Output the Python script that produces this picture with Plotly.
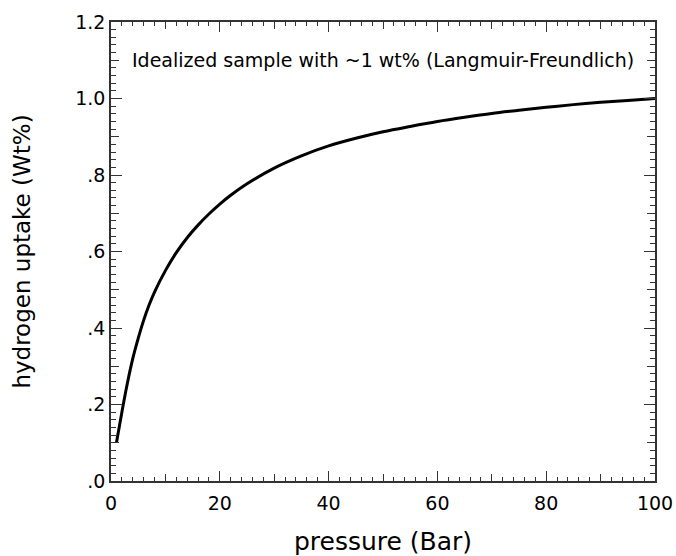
import plotly.graph_objects as go

pressure = [1, 2, 3, 4, 5, 6, 7, 8, 10, 12, 14, 16, 18, 20, 22, 25, 30, 35, 40, 45,
            50, 55, 60, 65, 70, 75, 80, 85, 90, 95, 100]
uptake = [0.10, 0.18, 0.255, 0.32, 0.373, 0.42, 0.46, 0.494, 0.55, 0.597, 0.636, 0.669,
          0.698, 0.724, 0.747, 0.777, 0.818, 0.85, 0.876, 0.896, 0.913, 0.927, 0.94,
          0.951, 0.961, 0.969, 0.977, 0.984, 0.99, 0.995, 1.0]

y_tickvals = [0, 0.2, 0.4, 0.6, 0.8, 1.0, 1.2]
y_ticktext = [".0", ".2", ".4", ".6", ".8", "1.0", "1.2"]
x_tickvals = [0, 20, 40, 60, 80, 100]
x_mid = [10, 30, 50, 70, 90]
y_mid = [0.1, 0.3, 0.5, 0.7, 0.9, 1.1]

FONT = "DejaVu Sans"
AX = "#333333"
XR = [0, 100]
YR = [0, 1.2]

fig = go.Figure()
fig.add_trace(go.Scatter(x=pressure, y=uptake, mode="lines",
                         line=dict(color="black", width=3, shape="spline"),
                         showlegend=False))
# invisible helper traces so that the overlay axes (extra tick rows) are drawn
for xa, ya in [("x2", "y2"), ("x3", "y3")]:
    fig.add_trace(go.Scatter(x=[XR[0]], y=[YR[0]], xaxis=xa, yaxis=ya, mode="markers",
                             marker=dict(opacity=0), showlegend=False, hoverinfo="skip"))

common = dict(showgrid=False, zeroline=False, automargin=False, tickcolor=AX)
minor_x = dict(dtick=2, ticks="inside", ticklen=4, tickwidth=1, tickcolor=AX, showgrid=False)
minor_y = dict(dtick=0.02, ticks="inside", ticklen=5, tickwidth=1, tickcolor=AX, showgrid=False)

fig.update_layout(
    width=676, height=556,
    margin=dict(l=111, r=21, t=22, b=75),
    paper_bgcolor="white", plot_bgcolor="white",
    font=dict(family=FONT, color="black", size=18),
    # bottom / left: labelled axes with major + minor ticks
    xaxis=dict(range=XR, tickmode="array", tickvals=x_tickvals, ticks="inside", ticklen=10,
               tickwidth=1.3, showline=True, linecolor=AX, linewidth=1.5, minor=minor_x,
               tickfont=dict(size=19), ticklabelstandoff=4,
               title=dict(text="pressure (Bar)", font=dict(size=25), standoff=22), **common),
    yaxis=dict(range=YR, tickmode="array", tickvals=y_tickvals, ticktext=y_ticktext,
               ticks="inside", ticklen=11, tickwidth=1.3, showline=True, linecolor=AX,
               linewidth=1.5, minor=minor_y, tickfont=dict(size=19),
               title=dict(text="hydrogen uptake (Wt%)", font=dict(size=23), standoff=38), **common),
    # top / right: same ticks, no labels
    xaxis2=dict(range=XR, overlaying="x", side="top", anchor="y2", tickmode="array",
                tickvals=x_tickvals, ticks="inside", ticklen=10, tickwidth=1.3,
                showticklabels=False, showline=True, linecolor=AX, linewidth=1.5,
                minor=minor_x, **common),
    yaxis2=dict(range=YR, overlaying="y", side="right", anchor="x2", tickmode="array",
                tickvals=y_tickvals, ticks="inside", ticklen=11, tickwidth=1.3,
                showticklabels=False, showline=True, linecolor=AX, linewidth=1.5,
                minor=minor_y, **common),
    # medium ticks on all four sides
    xaxis3=dict(range=XR, overlaying="x", anchor="y3", tickmode="array", tickvals=x_mid,
                ticks="inside", ticklen=7, tickwidth=1.2, showticklabels=False,
                mirror="ticks", showline=False, **common),
    yaxis3=dict(range=YR, overlaying="y", anchor="x3", tickmode="array", tickvals=y_mid,
                ticks="inside", ticklen=8, tickwidth=1.2, showticklabels=False,
                mirror="ticks", showline=False, **common),
    annotations=[dict(x=0.5, y=1.1, xref="x domain", yref="y",
                      text="Idealized sample with ~1 wt% (Langmuir-Freundlich)",
                      showarrow=False, font=dict(size=19, family=FONT),
                      xanchor="center", yanchor="middle")],
)

fig.write_html("out.html")
